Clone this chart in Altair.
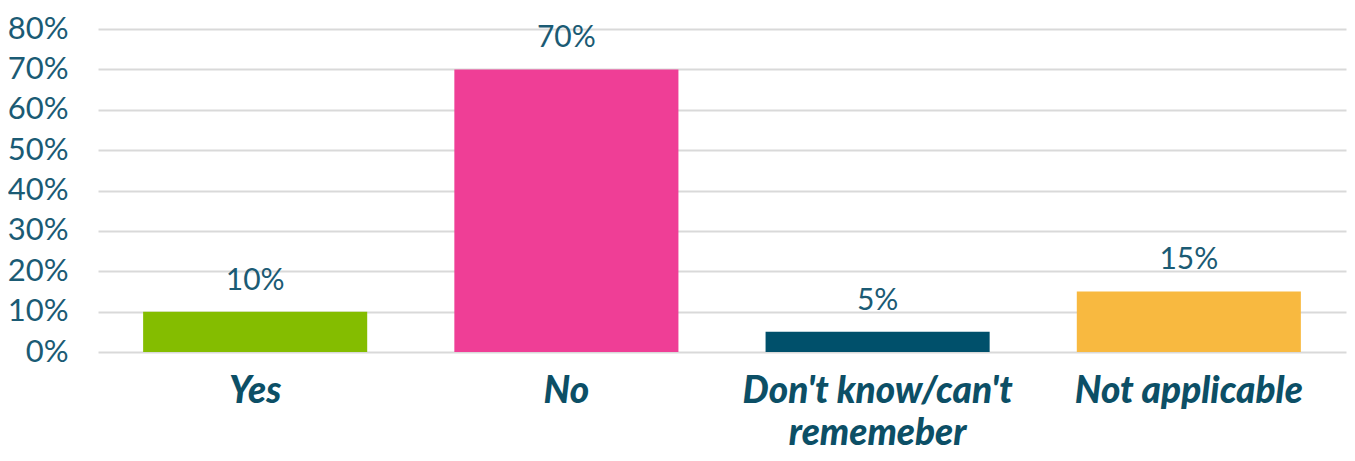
import altair as alt
import pandas as pd

categories = ["Yes", "No", "Don't know/can't\nrememeber", "Not applicable"]
values = [0.10, 0.70, 0.05, 0.15]
colors = ["#84BD00", "#EF3E96", "#00506B", "#F8B940"]

df = pd.DataFrame({"cat": categories, "val": values, "color": colors})

FONT = "Lato"
TXT = "#1B5B74"

x = alt.X("cat:N", sort=categories, title=None,
          scale=alt.Scale(paddingInner=0.28, paddingOuter=0.145),
          axis=alt.Axis(labelAngle=0, labelFont=FONT, labelFontSize=37,
                        labelFontWeight=900, labelFontStyle="italic",
                        labelColor="#0C4F66", labelPadding=21, labelBaseline="top",
                        labelLineHeight=42, labelExpr="split(datum.label, '\\n')",
                        ticks=False, domain=False, grid=False, labelLimit=400))

y = alt.Y("val:Q", title=None,
          scale=alt.Scale(domain=[0, 0.8], nice=False),
          axis=alt.Axis(format=".0%", values=[i / 10 for i in range(9)],
                        labelFont=FONT, labelFontSize=31, labelColor=TXT,
                        labelPadding=30, ticks=False, domain=False,
                        grid=True, gridColor="#D9D9D9", gridWidth=2))

bars = alt.Chart(df).mark_bar().encode(x=x, y=y, color=alt.Color("color:N", scale=None))
labels = alt.Chart(df).mark_text(baseline="bottom", dy=-16, font=FONT, fontSize=30,
                                 color=TXT).encode(
    x=alt.X("cat:N", sort=categories), y="val:Q", text=alt.Text("val:Q", format=".0%"))

chart = (bars + labels).properties(
    width=1248, height=323,
    autosize=alt.AutoSizeParams(type="none"),
    padding={"left": 90, "top": 21, "right": 1, "bottom": 101},
).configure_view(stroke=None)

chart.save("out.html", embed_options={"renderer": "svg", "actions": False})
